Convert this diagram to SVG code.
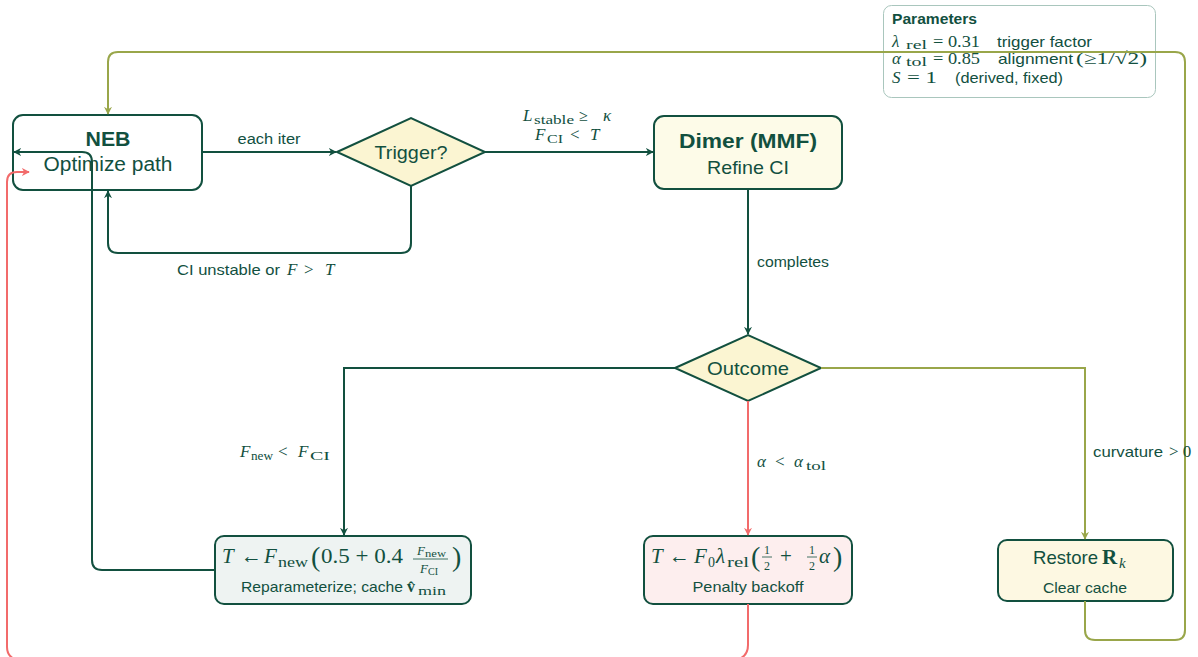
<svg xmlns="http://www.w3.org/2000/svg" width="1198" height="657" viewBox="0 0 1198 657">
<defs>
<style>
.sans{font-family:"Liberation Sans","DejaVu Sans",sans-serif;fill:#12503f}
.math{font-family:"Liberation Serif","DejaVu Serif",serif;fill:#12503f}
.it{font-style:italic}
.bf{font-weight:bold}
.box{stroke:#12503f;stroke-width:2}
.dk{fill:none;stroke:#12503f;stroke-width:2}
.rd{fill:none;stroke:#f26b6b;stroke-width:2}
.ol{fill:none;stroke:#99a64a;stroke-width:2}
.fl{stroke:#12503f;stroke-width:0.8}
</style>
<marker id="ad" viewBox="0 0 10 10" refX="9" refY="5" markerWidth="8" markerHeight="8" orient="auto-start-reverse" markerUnits="userSpaceOnUse"><path d="M0,0 L10,5 L0,10 L3,5 Z" fill="#12503f"/></marker>
<marker id="ar" viewBox="0 0 10 10" refX="9" refY="5" markerWidth="8" markerHeight="8" orient="auto-start-reverse" markerUnits="userSpaceOnUse"><path d="M0,0 L10,5 L0,10 L3,5 Z" fill="#f26b6b"/></marker>
<marker id="ao" viewBox="0 0 10 10" refX="9" refY="5" markerWidth="8" markerHeight="8" orient="auto-start-reverse" markerUnits="userSpaceOnUse"><path d="M0,0 L10,5 L0,10 L3,5 Z" fill="#99a64a"/></marker>
</defs>
<rect width="1198" height="657" fill="#ffffff"/>

<g id="params">
<rect x="883.500" y="5.500" width="272" height="92" rx="8" fill="#ffffff" stroke="#a9c6bd" stroke-width="1"/>
<text x="892" y="24" class="sans bf" font-size="14" textLength="85" lengthAdjust="spacingAndGlyphs">Parameters</text>
<text x="892" y="47" class="math it" font-size="17">λ</text>
<text x="906" y="49" class="math" font-size="12" textLength="21" lengthAdjust="spacingAndGlyphs">rel</text>
<text x="933" y="47" class="math" font-size="17" textLength="47" lengthAdjust="spacingAndGlyphs">= 0.31</text>
<text x="997" y="47" class="sans" font-size="15" textLength="95" lengthAdjust="spacingAndGlyphs">trigger factor</text>
<text x="892" y="64" class="math it" font-size="17">α</text>
<text x="906" y="66" class="math" font-size="12" textLength="21" lengthAdjust="spacingAndGlyphs">tol</text>
<text x="933" y="64" class="math" font-size="17" textLength="47" lengthAdjust="spacingAndGlyphs">= 0.85</text>
<text x="998" y="64" class="sans" font-size="15" textLength="75" lengthAdjust="spacingAndGlyphs">alignment</text>
<text x="1076" y="64" class="math" font-size="17" textLength="71" lengthAdjust="spacingAndGlyphs">(≥1/√2)</text>
<text x="892" y="83" class="math it" font-size="17">S</text>
<text x="907" y="83" class="math" font-size="17" textLength="30" lengthAdjust="spacingAndGlyphs">= 1</text>
<text x="955" y="83" class="sans" font-size="15" textLength="108" lengthAdjust="spacingAndGlyphs">(derived, fixed)</text>
</g>

<g id="neb">
<rect x="13" y="115" width="189" height="75" rx="10" fill="#ffffff" class="box"/>
<text x="108" y="146" class="sans bf" font-size="20" text-anchor="middle" textLength="45" lengthAdjust="spacingAndGlyphs">NEB</text>
<text x="108" y="171" class="sans" font-size="20" text-anchor="middle" textLength="129" lengthAdjust="spacingAndGlyphs">Optimize path</text>
</g>

<g id="trigger">
<polygon points="337,152 411,118 485,152 411,186" fill="#fbf5d2" class="box"/>
<text x="411" y="159" class="sans" font-size="19" text-anchor="middle" textLength="73" lengthAdjust="spacingAndGlyphs">Trigger?</text>
</g>

<g id="dimer">
<rect x="654" y="116" width="188" height="73" rx="10" fill="#fdfbe8" class="box"/>
<text x="748" y="148" class="sans bf" font-size="20" text-anchor="middle" textLength="138" lengthAdjust="spacingAndGlyphs">Dimer (MMF)</text>
<text x="748" y="174" class="sans" font-size="19" text-anchor="middle" textLength="82" lengthAdjust="spacingAndGlyphs">Refine CI</text>
</g>

<g id="outcome">
<polygon points="675,368 748,335 821,368 748,401" fill="#fbf5d2" class="box"/>
<text x="748" y="375" class="sans" font-size="19" text-anchor="middle" textLength="82" lengthAdjust="spacingAndGlyphs">Outcome</text>
</g>

<g id="reparam">
<rect x="215" y="536" width="256" height="68" rx="9" fill="#eef3f2" class="box"/>
<text x="222" y="563" class="math it" font-size="21">T</text>
<text x="241" y="563" class="math" font-size="21">←</text>
<text x="264" y="563" class="math it" font-size="21">F</text>
<text x="278" y="567" class="math" font-size="14" textLength="30" lengthAdjust="spacingAndGlyphs">new</text>
<text x="311" y="566" class="math" font-size="28">(</text>
<text x="321" y="563" class="math" font-size="21" textLength="82" lengthAdjust="spacingAndGlyphs">0.5 + 0.4</text>
<text x="417" y="555" class="math it" font-size="13">F</text>
<text x="425" y="557" class="math" font-size="10" textLength="21" lengthAdjust="spacingAndGlyphs">new</text>
<line x1="413" y1="559" x2="448" y2="559" class="fl"/>
<text x="420" y="573" class="math it" font-size="13">F</text>
<text x="428" y="575" class="math" font-size="10">CI</text>
<text x="452" y="566" class="math" font-size="28">)</text>
<text x="241" y="592" class="sans" font-size="15" textLength="162" lengthAdjust="spacingAndGlyphs">Reparameterize; cache</text>
<text x="407" y="592" class="math bf" font-size="16">v̂</text>
<text x="418" y="595" class="math" font-size="12" textLength="28" lengthAdjust="spacingAndGlyphs">min</text>
</g>

<g id="penalty">
<rect x="644" y="536" width="208" height="68" rx="9" fill="#fdeeee" class="box"/>
<text x="651" y="563" class="math it" font-size="21">T</text>
<text x="669" y="563" class="math" font-size="21">←</text>
<text x="694" y="563" class="math it" font-size="21">F</text>
<text x="708" y="567" class="math" font-size="14">0</text>
<text x="716" y="563" class="math it" font-size="21">λ</text>
<text x="727" y="567" class="math" font-size="14" textLength="22" lengthAdjust="spacingAndGlyphs">rel</text>
<text x="751" y="566" class="math" font-size="28">(</text>
<text x="767" y="554" class="math" font-size="12" text-anchor="middle">1</text>
<line x1="762" y1="557" x2="772" y2="557" class="fl"/>
<text x="767" y="570" class="math" font-size="12" text-anchor="middle">2</text>
<text x="780" y="563" class="math" font-size="21">+</text>
<text x="812" y="554" class="math" font-size="12" text-anchor="middle">1</text>
<line x1="807" y1="557" x2="817" y2="557" class="fl"/>
<text x="812" y="570" class="math" font-size="12" text-anchor="middle">2</text>
<text x="819" y="563" class="math it" font-size="21">α</text>
<text x="833" y="566" class="math" font-size="28">)</text>
<text x="748" y="592" class="sans" font-size="15" text-anchor="middle" textLength="111" lengthAdjust="spacingAndGlyphs">Penalty backoff</text>
</g>

<g id="restore">
<rect x="998" y="540" width="175" height="61" rx="9" fill="#fdf8e2" class="box"/>
<text x="1033" y="564" class="sans" font-size="19" textLength="65" lengthAdjust="spacingAndGlyphs">Restore</text>
<text x="1102" y="564" class="math bf" font-size="21">R</text>
<text x="1119" y="568" class="math it" font-size="15">k</text>
<text x="1085" y="593" class="sans" font-size="15" text-anchor="middle" textLength="84" lengthAdjust="spacingAndGlyphs">Clear cache</text>
</g>

<g id="connectors">
<path class="dk" d="M202,152 H336" marker-end="url(#ad)"/>
<path class="dk" d="M411,186 V243 Q411,253 401,253 H118 Q108,253 108,243 V191" marker-end="url(#ad)"/>
<path class="dk" d="M485,152 H653" marker-end="url(#ad)"/>
<path class="dk" d="M748,189 V334" marker-end="url(#ad)"/>
<path class="dk" d="M675,368 H344 V535" marker-end="url(#ad)"/>
<path class="rd" d="M748,401 V535" marker-end="url(#ar)"/>
<path class="ol" d="M821,368 H1085 V539" marker-end="url(#ao)"/>
<path class="ol" d="M1085,601 V630 Q1085,640 1095,640 H1175 Q1185,640 1185,630 V62 Q1185,52 1175,52 H118 Q108,52 108,62 V114" marker-end="url(#ao)"/>
<path class="dk" d="M215,570 H102 Q92,570 92,560 V162 Q92,152 82,152 H14" marker-end="url(#ad)"/>
<path class="rd" d="M748,604 V645 Q748,657 736,660 H17 Q7,657 7,647 V182 Q7,172 17,172 H29" marker-end="url(#ar)"/>
<text x="269" y="144" class="sans" font-size="14" text-anchor="middle" textLength="63" lengthAdjust="spacingAndGlyphs">each iter</text>
<text x="177" y="275" class="sans" font-size="15" textLength="103" lengthAdjust="spacingAndGlyphs">CI unstable or</text>
<text x="287" y="275" class="math it" font-size="17">F</text>
<text x="304" y="275" class="math" font-size="17">&gt;</text>
<text x="325" y="275" class="math it" font-size="17">T</text>
<text x="523" y="121" class="math it" font-size="17">L</text>
<text x="534" y="124" class="math" font-size="12" textLength="40" lengthAdjust="spacingAndGlyphs">stable</text>
<text x="579" y="121" class="math" font-size="16">≥</text>
<text x="603" y="121" class="math it" font-size="17">κ</text>
<text x="535" y="140" class="math it" font-size="17">F</text>
<text x="547" y="143" class="math" font-size="12" textLength="16" lengthAdjust="spacingAndGlyphs">CI</text>
<text x="570" y="140" class="math" font-size="17">&lt;</text>
<text x="590" y="140" class="math it" font-size="17">T</text>
<text x="757" y="267" class="sans" font-size="14" textLength="72" lengthAdjust="spacingAndGlyphs">completes</text>
<text x="240" y="457" class="math it" font-size="17">F</text>
<text x="251" y="460" class="math" font-size="12" textLength="22" lengthAdjust="spacingAndGlyphs">new</text>
<text x="278" y="457" class="math" font-size="17">&lt;</text>
<text x="298" y="457" class="math it" font-size="17">F</text>
<text x="310" y="460" class="math" font-size="12" textLength="20" lengthAdjust="spacingAndGlyphs">CI</text>
<text x="757" y="467" class="math it" font-size="17">α</text>
<text x="775" y="467" class="math" font-size="17">&lt;</text>
<text x="794" y="467" class="math it" font-size="17">α</text>
<text x="806" y="470" class="math" font-size="12" textLength="20" lengthAdjust="spacingAndGlyphs">tol</text>
<text x="1093" y="457" class="sans" font-size="15" textLength="70" lengthAdjust="spacingAndGlyphs">curvature</text>
<text x="1169" y="457" class="math" font-size="17">&gt; 0</text>
</g>
</svg>
